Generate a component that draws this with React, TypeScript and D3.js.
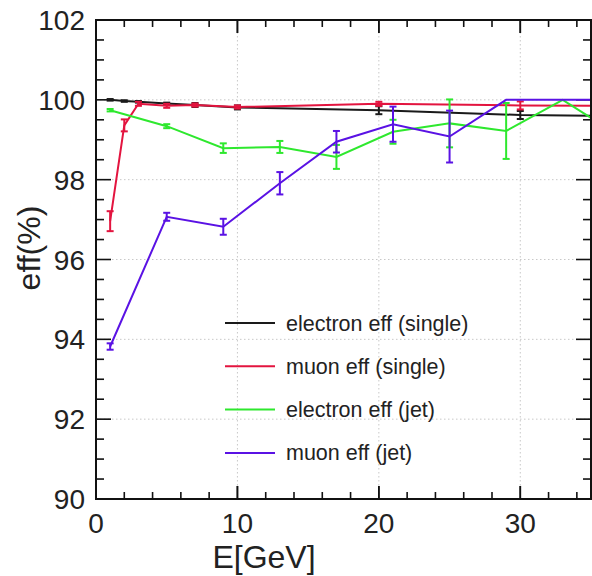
import React from "react";
import * as d3 from "d3";

const W = 592;
const H = 576;

// single-particle samples
const singleE = [1, 2, 3, 5, 7, 10, 20, 30, 35];
const electronSingle = [100.0, 99.97, 99.95, 99.91, 99.87, 99.81, 99.74, 99.62, 99.6];
const electronSingleErr = [0.02, 0.02, 0.02, 0.02, 0.05, 0.05, 0.1, 0.1, 0];
const muonSingle = [96.96, 99.36, 99.9, 99.85, 99.87, 99.82, 99.9, 99.86, 99.85];
const muonSingleErr = [0.25, 0.15, 0.05, 0.05, 0.04, 0.04, 0.05, 0.1, 0];

// jet samples
const jetE = [1, 5, 9, 13, 17, 21, 25, 29, 33, 35];
const electronJet = [99.74, 99.34, 98.79, 98.82, 98.57, 99.2, 99.41, 99.22, 100.0, 99.55];
const electronJetErr = [0.03, 0.05, 0.12, 0.15, 0.3, 0.3, 0.6, 0.7, 0, 0];
const muonJet = [93.82, 97.07, 96.82, 97.91, 98.95, 99.39, 99.08, 100.0, 100.0, 100.0];
const muonJetErr = [0.08, 0.1, 0.2, 0.28, 0.27, 0.44, 0.65, 0, 0, 0];

const legendLabels = [
  "electron eff (single)",
  "muon eff (single)",
  "electron eff (jet)",
  "muon eff (jet)",
];
const colors = ["#1a1a1a", "#e3143f", "#2ee82e", "#5a12e4"];

const xMajor = [0, 10, 20, 30];
const yMajor = [90, 92, 94, 96, 98, 100, 102];

const FONT = "'Liberation Sans', Arial, Helvetica, sans-serif";

export default function App() {
  const left = 96, right = 591, top = 20, bottom = 499;
  const x = d3.scaleLinear().domain([0, 35]).range([left, right]);
  const y = d3.scaleLinear().domain([90, 102]).range([bottom, top]);

  const series = [
    { xs: singleE, ys: electronSingle, es: electronSingleErr },
    { xs: singleE, ys: muonSingle, es: muonSingleErr },
    { xs: jetE, ys: electronJet, es: electronJetErr },
    { xs: jetE, ys: muonJet, es: muonJetErr },
  ];

  const line = d3
    .line<[number, number]>()
    .x((d) => x(d[0]))
    .y((d) => y(d[1]));

  const xMinor = d3.range(0, 35.001, 2);
  const yMinor = d3.range(90, 102.001, 0.5);

  const majLen = 13;
  const minLen = 7;

  return (
    <svg
      width={W}
      height={H}
      style={{ position: "absolute", left: 0, top: 0, background: "#fff" }}
      fontFamily={FONT}
    >
      <rect x={0} y={0} width={W} height={H} fill="#fff" />
      {/* grid */}
      <g stroke="#c8c8c8" strokeWidth={1} strokeDasharray="1.5,2.5">
        {xMajor
          .filter((v) => v > 0)
          .map((v) => (
            <line key={"gx" + v} x1={x(v)} x2={x(v)} y1={top} y2={bottom} />
          ))}
        {yMajor
          .filter((v) => v > 90 && v < 102)
          .map((v) => (
            <line key={"gy" + v} x1={left} x2={right} y1={y(v)} y2={y(v)} />
          ))}
      </g>

      {/* ticks */}
      <g stroke="#111" strokeWidth={1.6}>
        {xMinor.map((v) => {
          const len = xMajor.includes(v) ? majLen : minLen;
          return (
            <g key={"tx" + v}>
              <line x1={x(v)} x2={x(v)} y1={bottom} y2={bottom - len} />
              <line x1={x(v)} x2={x(v)} y1={top} y2={top + len} />
            </g>
          );
        })}
        {xMajor.map((v) => (
          <g key={"txm" + v}>
            <line x1={x(v)} x2={x(v)} y1={bottom} y2={bottom - majLen} />
            <line x1={x(v)} x2={x(v)} y1={top} y2={top + majLen} />
          </g>
        ))}
        {yMinor.map((v) => {
          const len = yMajor.includes(v) ? majLen + 2 : minLen + 1;
          return (
            <g key={"ty" + v}>
              <line x1={left} x2={left + len} y1={y(v)} y2={y(v)} />
              <line x1={right} x2={right - len} y1={y(v)} y2={y(v)} />
            </g>
          );
        })}
      </g>

      {/* series */}
      {series.map((s, i) => {
        const pts = s.xs.map((v, j) => [v, s.ys[j]] as [number, number]);
        return (
          <g key={"s" + i} stroke={colors[i]} fill="none" strokeWidth={2}>
            <path d={line(pts) || ""} />
            {s.xs.map((v, j) =>
              s.es[j] > 0 ? (
                <g key={j}>
                  <line
                    x1={x(v)}
                    x2={x(v)}
                    y1={y(s.ys[j] - s.es[j])}
                    y2={y(s.ys[j] + s.es[j])}
                  />
                  <line
                    x1={x(v) - 3.5}
                    x2={x(v) + 3.5}
                    y1={y(s.ys[j] - s.es[j])}
                    y2={y(s.ys[j] - s.es[j])}
                  />
                  <line
                    x1={x(v) - 3.5}
                    x2={x(v) + 3.5}
                    y1={y(s.ys[j] + s.es[j])}
                    y2={y(s.ys[j] + s.es[j])}
                  />
                </g>
              ) : null
            )}
          </g>
        );
      })}

      {/* frame */}
      <rect
        x={left}
        y={top}
        width={right - left}
        height={bottom - top}
        fill="none"
        stroke="#111"
        strokeWidth={2}
      />

      {/* tick labels */}
      <g fill="#222" fontSize={28}>
        {yMajor.map((v) => (
          <text key={"ly" + v} x={85} y={y(v) + 10} textAnchor="end">
            {v}
          </text>
        ))}
        {xMajor.map((v) => (
          <text key={"lx" + v} x={x(v)} y={533} textAnchor="middle">
            {v}
          </text>
        ))}
      </g>

      {/* axis titles */}
      <text x={264} y={568} textAnchor="middle" fontSize={32} fill="#222">
        E[GeV]
      </text>
      <text
        transform={`translate(40,248) rotate(-90)`}
        textAnchor="middle"
        fontSize={32}
        fill="#222"
      >
        eff(%)
      </text>

      {/* legend */}
      {legendLabels.map((t, i) => {
        const ly = 323 + i * 43.3;
        return (
          <g key={"lg" + i}>
            <line x1={225} x2={275} y1={ly} y2={ly} stroke={colors[i]} strokeWidth={2} />
            <text x={286} y={ly + 7.5} fontSize={21.5} fill="#222">
              {t}
            </text>
          </g>
        );
      })}
    </svg>
  );
}
